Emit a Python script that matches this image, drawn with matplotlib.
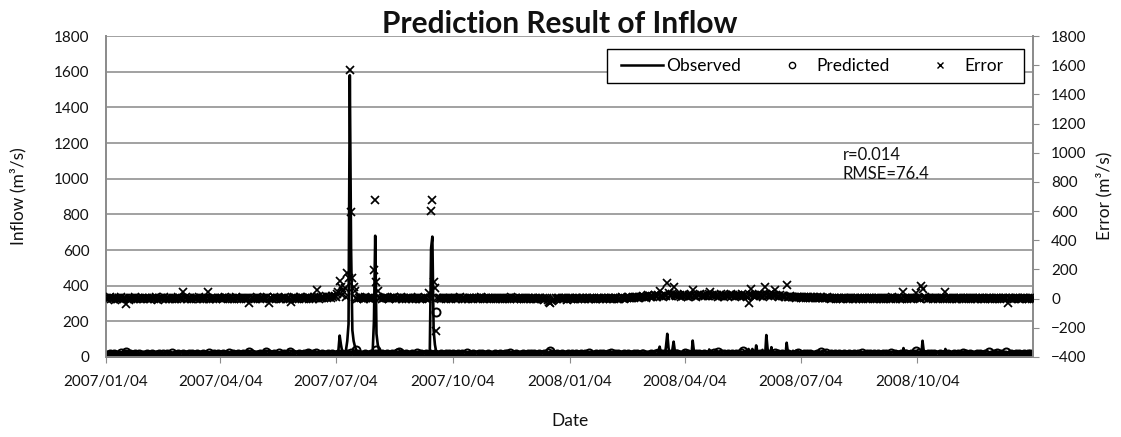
import numpy as np
import pandas as pd
import matplotlib
matplotlib.use('Agg')
import matplotlib.pyplot as plt
from matplotlib.lines import Line2D
from matplotlib.patches import Rectangle

plt.rcParams['font.family'] = ['Lato', 'DejaVu Sans']

# Daily series, first day 2007/01/04
start = '2007-01-04'
n_days = 731

# Observed inflow (m3/s): daily base values, one digit per day
observed_base = """
354623745362847352634572846352
463527384625374628354736257483
537462835746253847362547382645
746352847563248573625847362548
625374856372548637254836472536
573648257364825736482573648257
364825736425837462583746258374
462837465283746528374652837465
837465283746528374652837465283
354627384652738465273846527384
465273846527384652738465273846
527384652738465273846527384652
384652738465273846527384652738
657384956738495673849567384956
738495673849567384956738495673
849567384956738495673849567384
956738495673849567384956738495
673849567384956738495673849567
473625847362584736258473625847
362584736258473625847362584736
584736258473625847362584736258
473625847362584736258473625847
362584736258473625847362584736
584736258473625847362584736258
473625847362584736258473625847
"""

# Observed days above the base band
observed_peaks = {
    '2007-03-30': 18, '2007-04-20': 22, '2007-05-05': 25, '2007-06-10': 20,
    '2007-06-25': 30, '2007-07-02': 25, '2007-07-06': 35, '2007-07-07': 120,
    '2007-07-08': 70, '2007-07-09': 30, '2007-07-12': 40, '2007-07-13': 90,
    '2007-07-14': 185, '2007-07-15': 1580, '2007-07-16': 610, '2007-07-17': 150,
    '2007-07-18': 90, '2007-07-19': 60, '2007-07-20': 40, '2007-08-02': 30,
    '2007-08-03': 200, '2007-08-04': 680, '2007-08-05': 130, '2007-08-06': 70,
    '2007-08-07': 40, '2007-09-16': 40, '2007-09-17': 610, '2007-09-18': 675,
    '2007-09-19': 150, '2007-09-20': 70, '2007-09-21': 30, '2007-12-20': 25,
    '2008-03-15': 58, '2008-03-16': 20, '2008-03-20': 60, '2008-03-21': 130,
    '2008-03-22': 50, '2008-03-25': 40, '2008-03-26': 86, '2008-03-27': 30,
    '2008-04-03': 35, '2008-04-10': 92, '2008-04-11': 30, '2008-04-16': 30,
    '2008-04-23': 42, '2008-04-24': 25, '2008-05-08': 25, '2008-05-18': 30,
    '2008-05-22': 35, '2008-05-24': 45, '2008-05-27': 45, '2008-05-30': 65,
    '2008-05-31': 30, '2008-06-04': 40, '2008-06-07': 123, '2008-06-08': 45,
    '2008-06-11': 55, '2008-06-17': 25, '2008-06-23': 80, '2008-06-24': 25,
    '2008-06-28': 35, '2008-09-23': 50, '2008-10-08': 91, '2008-10-09': 30,
    '2008-10-26': 45,
}

# Predicted inflow (m3/s): daily values
predicted_base = """
4 12 7 15 3 9 18 6 11 2 14 8 20 5 10 16 3 13 7 19 4 11 6 17 9 2 15 8 12 5
10 3 16 7 13 1 18 9 5 14 11 4 19 8 2 15 6 12 17 3 10 7 20 5 13 9 1 16 6 11
7 15 2 12 9 18 4 10 16 6 13 3 19 8 11 5 17 1 14 9 6 20 3 12 8 15 4 10 18 7
13 5 17 9 2 14 8 20 4 11 16 6 1 12 18 7 10 3 15 9 5 19 13 2 8 16 6 11 4 14
9 18 3 12 7 15 1 10 19 5 13 8 16 2 11 6 20 4 14 9 17 3 12 7 15 10 1 18 6 13
5 11 16 2 14 8 19 6 12 3 17 10 4 15 9 20 7 13 1 11 18 5 14 8 2 16 10 6 19 12
8 14 4 17 11 2 19 9 13 6 16 3 12 20 7 10 15 1 18 5 11 14 8 3 17 9 6 13 2 16
12 6 18 3 15 10 1 16 8 13 4 19 7 11 2 17 9 14 5 20 10 3 12 16 6 8 18 1 13 7
3 17 9 14 6 20 11 2 15 8 12 5 18 10 1 16 7 13 4 19 9 14 3 11 17 6 12 2 15 8
16 4 11 19 7 13 2 15 9 5 18 12 6 10 20 3 14 8 1 17 11 5 13 9 16 4 19 7 12 2
11 19 5 13 8 2 16 10 14 4 17 7 12 1 18 9 15 6 20 3 13 10 5 16 8 11 2 14 18 6
2 13 17 6 10 15 4 19 8 12 1 16 9 14 5 18 11 3 20 7 13 16 6 10 2 15 9 12 4 17
14 7 10 3 18 12 5 16 1 11 19 8 13 4 15 9 2 17 10 6 20 12 3 14 7 11 16 5 9 18
6 16 12 1 9 17 13 4 20 7 10 15 2 18 11 5 14 8 19 3 12 16 6 9 13 1 17 10 15 4
10 5 15 19 3 11 8 14 6 18 12 2 16 9 13 20 4 10 15 7 17 1 12 19 5 14 8 11 3 16
18 9 2 14 12 6 20 10 16 3 13 7 19 11 1 15 9 17 5 12 8 18 4 14 10 2 16 13 6 20
4 14 11 8 17 1 13 19 5 10 15 9 3 18 12 6 16 2 14 11 20 7 13 5 17 9 1 15 10 12
15 3 19 12 6 16 10 2 14 8 18 4 11 17 7 13 1 20 9 15 3 12 18 6 10 14 5 16 8 11
7 12 1 16 9 20 4 13 11 6 17 2 15 10 19 5 12 8 14 3 18 11 6 13 1 16 9 20 4 10
13 18 8 5 15 3 12 17 10 1 14 19 6 11 4 16 9 13 2 18 7 12 15 5 10 20 3 14 8 17
1 10 16 13 4 18 8 6 19 12 9 3 15 7 17 11 2 14 20 6 10 16 4 13 9 1 18 7 12 15
19 6 12 2 17 9 15 11 3 14 20 8 10 16 1 13 5 18 12 7 15 2 19 9 11 6 14 17 3 10
9 15 4 18 11 7 2 14 16 5 12 18 1 9 13 20 6 15 10 3 17 11 8 14 4 12 19 2 16 6
12 2 17 10 14 19 6 9 4 15 7 13 20 3 11 16 8 1 14 18 5 12 9 16 2 13 10 19 7 15
5 13 9 16 1 12 18 10 15 7 3 17 11 4 19 8 14 2 13 9 16 6 12 20 10 1 15 8 18 11
"""

predicted_peaks = {
    '2007-01-20': 30, '2007-04-27': 30, '2007-05-10': 26, '2007-05-29': 26,
    '2007-06-12': 24, '2007-07-20': 40, '2007-08-05': 40, '2007-08-23': 30,
    '2007-09-21': 254, '2007-12-20': 35, '2008-04-30': 26, '2008-05-20': 35,
    '2008-07-20': 28, '2008-10-03': 35, '2008-11-29': 26, '2008-12-13': 30,
}

# Error (m3/s, right axis): daily values
error_base = """
3 -2 5 8 -4 1 6 -7 2 0 4 -3 9 -5 1 7 -2 3 -6 4 0 5 -1 8 -3 2 6 -4 1 3
-2 4 7 -1 3 -5 6 2 -3 8 0 -6 4 1 5 -2 9 -4 3 7 -1 2 -5 6 0 4 -3 8 1 -2
5 -1 3 8 -4 2 6 0 -3 7 4 -2 1 9 -5 3 6 -1 4 2 8 -3 0 5 -2 7 3 -4 6 1
2 6 -3 4 9 1 -2 5 7 -4 3 0 8 -1 6 2 -5 4 7 1 -3 5 2 8 -2 4 6 -1 3 9
4 -2 7 3 -5 6 1 8 -3 2 5 -1 9 4 -4 3 7 0 -2 6 4 8 -3 5 1 -4 7 2 10 -1
6 3 -2 8 5 1 -4 7 2 9 -1 4 6 -3 8 2 5 11 -2 7 3 12 6 15 4 9 13 7 18 10
20 14 30 45 60 35 25 50 70 12 9 6 8 22 15 10 4 7 -3 5 8 2 6 -1 9 4 7 3 -2 6
5 8 3 9 6 7 4 -2 6 3 8 1 5 -3 7 4 2 9 -1 6 3 5 8 0 4 7 -2 5 3 6
2 -3 6 4 -1 5 8 0 3 -4 7 2 5 -2 9 6 4 1 -3 2 -5 4 6 1 -2 5 3 7 -1 4
3 6 -2 4 1 7 -3 5 2 8 -1 4 6 0 3 -4 5 2 7 -2 4 1 6 -3 5 8 2 -1 4 3
-1 3 5 -4 2 6 1 -3 4 7 -2 5 0 3 -5 6 2 4 -1 8 3 -2 5 1 -4 6 3 0 4 -3
2 -4 5 1 -2 6 3 -5 4 0 -3 7 2 -1 5 -6 3 1 -12 -20 -30 -18 -8 -3 4 -2 6 1 -4 3
-3 2 5 -6 1 4 -2 7 0 -5 3 6 -1 2 -4 5 1 -3 6 2 -2 4 -5 3 7 0 -3 5 2 -1
4 -2 3 6 -1 5 2 -4 7 1 -3 4 6 0 -2 5 8 3 -1 6 2 9 4 7 3 10 6 12 8 5
10 14 8 18 12 6 16 22 15 9 20 13 25 18 11 24 19 17 21 14 28 16 23 19 26 20 33 18 24 15
22 17 28 14 20 31 25 18 12 27 21 16 30 19 24 13 26 22 35 18 15 28 20 24 17 29 14 23 19 26
18 25 14 21 29 16 23 12 27 20 15 24 31 18 22 13 26 19 28 17 21 30 16 24 19 12 27 22 15 25
20 28 16 23 30 19 25 14 27 21 33 18 24 29 17 26 22 15 28 20 13 24 18 21 16 12 19 14 10 15
12 8 14 6 11 9 13 5 10 7 12 4 9 11 6 8 3 10 7 5 9 2 6 8 4 7 1 5 8 3
4 -2 6 1 5 -3 3 7 0 4 -1 5 2 6 -3 4 1 7 -2 3 5 0 6 -1 2 4 -3 5 1 3
-2 4 1 6 -3 3 5 -1 7 2 -4 4 0 6 -2 3 5 1 -3 8 2 4 -1 6 3 -2 5 0 4 2
3 -1 5 2 -4 6 1 4 -2 7 3 0 5 -3 4 8 1 -2 6 3 5 -1 4 7 2 -3 5 1 6 0
2 5 -3 4 1 6 -2 3 7 0 -4 5 2 6 -1 3 4 -2 5 1 7 -3 2 4 0 6 -1 3 5 -2
4 1 -3 5 2 6 -1 3 0 5 -4 2 6 1 -2 4 3 -5 1 5 -3 2 6 0 4 -2 3 1 5 -1
2 -3 4 1 5 -2 3 0 6 -1 4 2 -3 5 1 3 -2 4 0 5 2 -1 3 6 -4 2 1 5 3 0
"""

error_peaks = {
    '2007-01-20': -37, '2007-03-06': 48, '2007-03-25': 48, '2007-04-27': -32,
    '2007-05-12': -30, '2007-05-30': -25, '2007-06-19': 58, '2007-07-07': 123,
    '2007-07-08': 82, '2007-07-13': 178, '2007-07-14': 140, '2007-07-15': 1568,
    '2007-07-16': 597, '2007-07-17': 141, '2007-07-18': 82, '2007-07-19': 50,
    '2007-08-03': 194, '2007-08-04': 676, '2007-08-05': 116, '2007-08-06': 55,
    '2007-09-15': 36, '2007-09-17': 600, '2007-09-18': 675, '2007-09-19': 116,
    '2007-09-20': 73, '2007-09-21': -224, '2008-03-15': 50, '2008-03-21': 110,
    '2008-03-22': 40, '2008-03-26': 82, '2008-04-10': 58, '2008-04-24': 48,
    '2008-05-24': -32, '2008-05-26': 65, '2008-06-06': 82, '2008-06-14': 58,
    '2008-06-23': 94, '2008-09-23': 48, '2008-10-03': 37, '2008-10-07': 87,
    '2008-10-08': 64, '2008-10-26': 48, '2008-12-14': -27,
}

tick_dates = ['2007-01-04', '2007-04-04', '2007-07-04', '2007-10-04',
              '2008-01-04', '2008-04-04', '2008-07-04', '2008-10-04']
tick_labels = ['2007/01/04', '2007/04/04', '2007/07/04', '2007/10/04',
               '2008/01/04', '2008/04/04', '2008/07/04', '2008/10/04']
r_value = 0.014
rmse = 76.4


def digits(text):
    return np.array([int(c) for c in text if c.isdigit()], dtype=float)


def with_peaks(base, peaks, dates):
    values = base[:len(dates)].copy()
    for day, v in peaks.items():
        values[(pd.Timestamp(day) - dates[0]).days] = v
    return values


dates = pd.date_range(start, periods=n_days, freq='D')
observed = with_peaks(digits(observed_base), observed_peaks, dates)
predicted = with_peaks(np.array(predicted_base.split(), dtype=float),
                       predicted_peaks, dates)
error = with_peaks(np.array(error_base.split(), dtype=float), error_peaks, dates)

W, H = 1121, 437
fig = plt.figure(figsize=(W / 100, H / 100), dpi=100)
ax = fig.add_axes([106 / W, 1 - 357 / H, (1033 - 106) / W, (357 - 36) / H])
ax2 = ax.twinx()

grid_grey = '#9a9a9a'
axis_grey = '#8c8c8c'
text_col = '#111111'

ax.plot(dates, observed, color='black', lw=1.9, zorder=3)
ax.plot(dates, predicted, ls='none', marker='o', ms=5.8, mfc='none',
        mec='black', mew=1.4, zorder=4)
ax2.plot(dates, error, ls='none', marker='x', ms=6.4, color='black',
         mew=1.25, zorder=5)

ax.set_xlim(dates[0], dates[-1])
ax.set_ylim(0, 1800)
ax.set_yticks(np.arange(0, 1801, 200))
ax2.set_ylim(-400, 1800)
ax2.set_yticks(np.arange(-400, 1801, 200))
ax.set_xticks(pd.to_datetime(tick_dates))
ax.set_xticklabels(tick_labels)

ax.yaxis.grid(True, color=grid_grey, lw=1.3)
ax.set_axisbelow(True)
for a in (ax, ax2):
    a.spines['top'].set_visible(False)
    for side in ('left', 'right', 'bottom'):
        a.spines[side].set_color(axis_grey)
        a.spines[side].set_linewidth(1.3)
ax.tick_params(axis='y', length=0, pad=12, labelsize=11, labelcolor=text_col)
ax.tick_params(axis='x', length=4, color=axis_grey, pad=9, labelsize=11,
               labelcolor=text_col)
ax2.tick_params(axis='y', length=4, color=axis_grey, pad=9, labelsize=11,
                labelcolor=text_col)

fig.text(560 / W, 1 - 33 / H, 'Prediction Result of Inflow', ha='center',
         va='baseline', fontsize=21.5, fontweight='bold', color=text_col)
fig.text(18 / W, 1 - 196 / H, 'Inflow (m³/s)', rotation=90, ha='center',
         va='center', fontsize=12.5, color=text_col)
fig.text(1104 / W, 1 - 196 / H, 'Error (m³/s)', rotation=90, ha='center',
         va='center', fontsize=12.5, color=text_col)
fig.text(570 / W, 1 - 421 / H, 'Date', ha='center', va='center',
         fontsize=12.5, color=text_col)
fig.text(843 / W, 1 - 155 / H, 'r=%.3f' % r_value, ha='left', va='center',
         fontsize=12, color=text_col)
fig.text(843 / W, 1 - 174 / H, 'RMSE=%.1f' % rmse, ha='left', va='center',
         fontsize=12, color=text_col)

handles = [
    Line2D([], [], color='black', lw=1.8),
    Line2D([], [], ls='none', marker='o', ms=4.5, mfc='none', mec='black', mew=1.0),
    Line2D([], [], ls='none', marker='x', ms=4.5, color='black', mew=1.0),
]
leg = fig.legend(handles, ['Observed', 'Predicted', 'Error'], ncol=3,
                 loc='center right', bbox_to_anchor=(1003 / W, 1 - 66 / H),
                 fontsize=12.5, frameon=False, borderpad=0, borderaxespad=0,
                 handlelength=2.4, handletextpad=0.2, columnspacing=1.7)

# legend frame drawn around the entries
fig.canvas.draw()
bb = leg.get_window_extent()
x0 = bb.x0 - 14
fig.patches.append(Rectangle((x0 / W, 1 - 83 / H), (1024 - x0) / W, 34 / H,
                             transform=fig.transFigure, fill=True,
                             facecolor='white', edgecolor='black', lw=1.0,
                             zorder=1))
leg.set_zorder(2)

fig.savefig('out.png', dpi=100)
